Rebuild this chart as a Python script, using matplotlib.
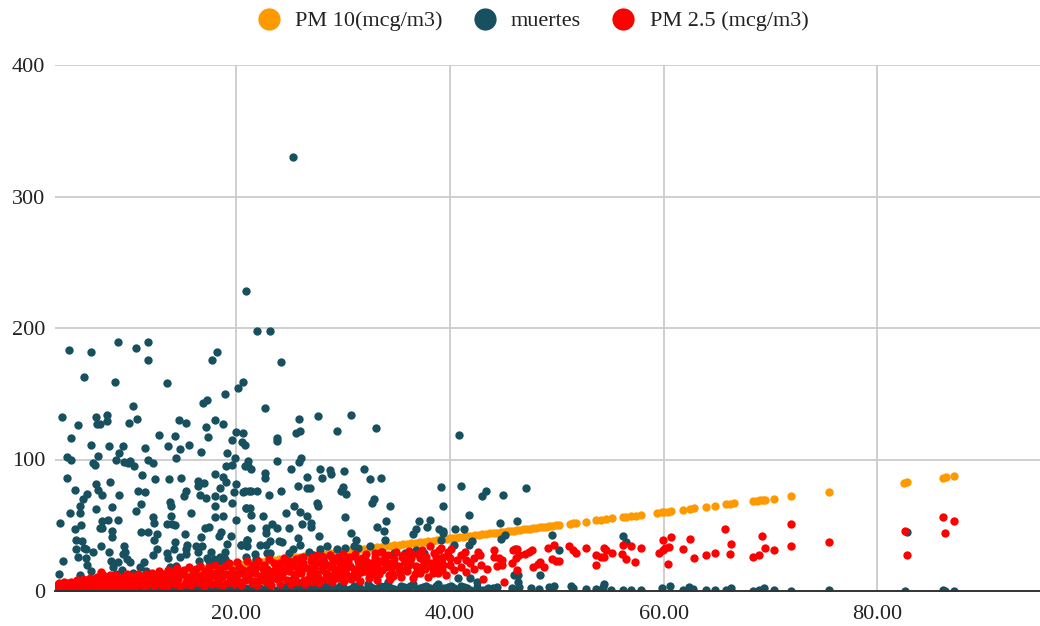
import matplotlib
matplotlib.use("Agg")
import matplotlib.pyplot as plt
from matplotlib.lines import Line2D

plt.rcParams['font.family'] = ['Liberation Serif', 'DejaVu Serif']

series_names = ["PM 10(mcg/m3)", "muertes", "PM 2.5 (mcg/m3)"]
x_ticks = [20, 40, 60, 80]
y_ticks = [0, 100, 200, 300, 400]

pm10_values = [3.2,3.6,4.0,4.4,4.8,5.2,5.6,6.0,6.4,6.8,7.2,7.6,8.0,8.4,8.8,9.2,9.6,10.0,10.4,10.8,
 11.2,11.6,12.0,12.4,12.8,13.2,13.6,14.0,14.4,14.8,15.2,15.6,16.0,16.4,16.8,17.2,17.6,18.0,18.4,18.8,
 19.2,19.6,20.0,20.4,20.8,21.2,21.6,22.0,22.4,22.8,23.2,23.6,24.0,24.4,24.8,25.2,25.6,26.0,26.4,26.8,
 27.2,27.6,28.0,28.4,28.8,29.2,29.6,30.0,30.4,30.8,31.2,31.6,32.0,32.4,32.8,33.2,33.6,34.0,34.4,34.8,
 35.2,35.6,36.0,36.4,36.8,37.2,37.6,38.0,38.4,38.8,39.2,39.6,40.0,40.3,40.6,40.9,41.2,41.5,41.8,42.1,
 42.4,42.7,43.0,43.4,43.8,44.1,44.4,44.8,45.1,45.4,45.7,46.0,46.3,46.6,46.9,47.2,47.5,47.8,48.1,48.4,
 48.7,49.0,49.3,49.6,49.9,50.2,51.2,51.5,51.8,52.7,53.7,54.1,54.6,55.2,56.2,56.5,56.9,57.4,57.9,
 59.4,59.8,60.0,60.4,60.7,61.8,62.5,62.8,64.0,64.8,65.8,66.2,66.6,68.4,68.7,69.0,69.3,69.5,70.3,71.9,
 75.5,82.5,82.8,86.1,86.4,87.2]

muertes_points = [
 (4.4,183),(6.4,182),(9.0,189),(10.6,185),(11.8,189),(11.8,176),(18.2,182),(17.8,176),(5.8,163),(8.7,159),
 (13.5,158),(20.7,159),(20.2,154),(19.0,150),(17.3,145),(16.9,143),(10.4,141),(3.7,132),(6.9,132),(7.9,134),
 (5.2,126),(7.9,129),(7.3,127),(7.0,127),(10.0,128),(10.7,131),(14.7,130),(15.3,128),(18.0,130),(18.8,127),
 (17.2,125),(20.0,121),(20.7,120),(4.6,116),(12.8,119),(14.3,118),(17.4,117),(19.6,115),(6.4,111),(8.1,110),
 (9.4,110),(11.5,109),(13.6,110),(14.8,108),(15.6,111),(16.7,106),(19.2,105),(20.6,113),(20.8,111),(9.1,105),
 (7.1,103),(4.2,102),(4.6,100),(8.8,100),(6.6,97),(6.8,96),(9.5,98),(9.9,97),(10.1,99),(10.5,95),
 (11.8,100),(12.2,97),(14.4,101),(19.9,101),(19.1,95),(19.6,96),(20.8,95),(11.2,88),(4.2,86),(12.4,85),
 (13.7,85),(14.9,86),(8.2,83),(6.9,81),(4.9,77),(7.1,77),(7.5,73),(6.1,74),(5.7,70),(9.1,73),
 (10.8,76),(11.5,75),(16.4,84),(17.0,82),(16.4,80),(18.0,89),(18.8,87),(19.1,83),(20.0,81),(18.5,78),
 (19.8,75),(20.8,76),(15.3,76),(15.1,72),(16.6,73),(17.2,71),(18.0,72),(18.8,71),(19.6,67),(18.0,65),
 (13.8,68),(13.9,65),(11.1,66),(8.4,64),(5.4,65),(6.9,62),(10.6,61),(4.5,59),(5.4,59),(15.8,59),
 (20.9,63),(13.9,57),(12.2,56),(12.3,52),(18.0,56),(18.8,57),(20.0,54),(3.5,52),(8.0,54),(7.5,53),
 (9.0,54),(5.5,50),(4.9,47),(7.3,48),(7.5,48),(13.5,51),(14.0,51),(14.3,50),(17.1,48),(17.5,49),
 (8.4,46),(8.4,41),(11.1,45),(11.8,45),(12.6,43),(12.3,39),(15.2,43),(18.6,45),(18.4,42),(19.5,42),
 (16.7,41),(5.0,39),(5.6,38),(14.3,37),(19.2,36),(21.0,39),(20.5,35),(5.0,32),(5.8,33),(6.0,32),
 (6.6,30),(7.4,34),(8.1,30),(9.5,34),(9.6,30),(9.4,28),(12.6,32),(12.2,27),(13.5,29),(14.2,32),
 (15.4,35),(15.3,32),(15.3,28),(14.8,26),(16.3,34),(16.8,34),(16.4,30),(17.7,30),(19.0,30),(5.2,26),
 (6.0,25),(3.8,23),(13.6,25),(16.5,23),(17.3,25),(17.9,24),(18.5,26),(19.0,24),(18.4,23),(17.5,23),
 (9.8,24),(10.1,22),(11.4,22),(8.3,23),(9.0,22),(6.1,20),(6.4,15),(3.4,13),(5.4,12),(8.5,18),
 (9.3,16),(8.8,13),(10.4,14),(11.6,15),(11.0,18),(14.4,19),(13.8,18),
 (25.3,330),(20.9,228),(22.0,198),(23.2,198),(24.2,174),(22.7,139),(25.9,131),(27.7,133),(30.8,134),(33.1,124),
 (26.0,122),(25.6,120),(29.4,122),(23.8,116),(23.8,114),(21.1,99),(23.8,99),(26.1,101),(25.9,98),(21.4,93),
 (21.1,95),(25.1,93),(27.9,93),(28.8,92),(28.9,89),(30.1,91),(32.0,93),(22.7,90),(22.7,86),(26.6,87),
 (28.0,86),(32.5,85),(33.6,86),(25.8,80),(26.6,78),(26.9,78),(30.0,79),(29.8,76),(30.3,74),(39.2,79),
 (20.7,75),(21.2,76),(21.4,76),(22.0,76),(23.1,73),(24.2,76),(27.6,67),(27.7,65),(32.9,70),(32.7,67),
 (34.4,65),(39.4,65),(25.4,65),(20.9,63),(21.3,63),(21.4,58),(22.5,57),(24.7,59),(26.0,60),(26.6,57),
 (30.2,56),(21.4,48),(22.8,48),(22.8,44),(23.4,51),(23.8,48),(25.0,48),(26.2,51),(27.0,52),(27.0,49),
 (34.0,53),(33.2,49),(33.8,46),(37.1,53),(36.8,47),(36.6,43),(38.1,54),(37.9,49),(39.0,47),(39.4,46),
 (39.2,39),(27.8,42),(30.8,44),(33.9,39),(31.2,39),(31.0,34),(31.4,33),(30.2,33),(32.5,34),(25.8,40),
 (26.0,35),(24.0,38),(24.3,37),(23.2,38),(22.2,35),(22.8,35),(21.0,39),(20.5,35),(21.0,34),(25.3,32),
 (25.0,29),(22.9,29),(23.2,29),(20.9,26),(21.8,28),(21.9,24),(26.8,30),(27.9,32),(28.5,34),(29.4,32),
 (28.8,27),(27.2,27),(33.7,30),(34.8,29),(35.8,29),(36.8,31),(37.6,29),
 (41.0,80),(40.9,119),(43.4,76),(43.0,72),(45.0,73),(47.1,78),(41.8,58),(44.7,52),(46.3,53),(40.5,47),
 (41.3,47),(39.4,44),(49.6,42.5),(56.2,41.5),(44.8,39.5),(45.2,42.5),(42.1,38),(41.8,35),(46.1,32),(50.2,31),
 (40.4,35),(56.5,37),(48.4,12),(46.4,12),(46.0,12),(46.4,7),(41.9,10),(42.5,7),(40.8,10),(82.8,45)]

muertes_floor_points = [
 (3.3,1),(3.8,2),(4.4,1),(5.0,0.5),(5.6,2),(6.2,1),(6.9,0.5),(7.5,2),(8.1,1),(8.8,0.5),
 (9.4,2),(10.0,1),(10.7,0.5),(11.3,2),(12.0,1),(12.6,2.5),(13.3,1),(14.0,2),(14.6,0.5),(15.3,2.5),
 (16.0,1),(16.6,3),(17.3,1),(17.9,2.5),(18.6,0.5),(19.2,3),(19.9,1),(20.5,3),(21.2,1),(21.9,3),
 (22.5,1),(23.2,3.5),(23.8,1),(24.5,3),(25.1,1),(25.8,4),(26.4,1),(27.1,3.5),(27.7,1),(28.4,4),
 (29.0,1.5),(29.7,3.5),(30.3,1),(31.0,4),(31.6,2),(32.3,5),(32.9,1),(33.5,3.5),(34.2,6.5),(34.8,1.5),
 (35.4,4),(36.0,1),(36.6,5),(37.2,2),(37.8,4),(38.4,1),(38.9,5),(39.5,2),(40.1,4),(40.7,1),
 (41.3,3),(41.9,1),(42.5,3),(43.1,1),(43.6,2.5),
 (30.0,3),(30.7,1.5),(31.3,3.5),(32.0,1),(32.6,3),(33.2,2),(33.9,4),(34.5,2.5),(35.1,1),(35.7,3),
 (36.3,3.5),(36.9,1.5),(37.5,3),(38.1,2),(38.7,3.5),(39.2,1),(39.8,3),(40.4,2),(41.0,4),(41.6,2),
 (24.2,1.5),(24.8,2),(25.5,2),(26.1,3),(26.8,2),(27.4,1.5),(28.0,3),(28.7,1.5),(29.3,2.5),(22.2,2),
 (22.9,2),(21.6,2),(20.9,2),(20.2,2),(19.6,2),(18.9,2),(18.3,2),(17.6,2),(17.0,2),(16.3,2),
 (44.0,2),(44.4,3),(45.8,2),(46.5,3.3),(47.6,2),(48.3,1.3),(49.3,3),(49.7,3.8),(51.3,3.8),(51.5,2),
 (52.7,1.5),(53.7,1.5),(54.4,5.3),(54.3,3.3),(55.1,0.8),(56.2,0.8),(56.9,0.8),(57.9,0.8),(59.8,2.3),(60.6,3.8),
 (61.8,0.8),(62.4,3.3),(62.7,1.8),(64.0,0.8),(64.8,0.8),(65.8,0.8),(66.3,2),(68.4,0),(68.9,0.5),(69.4,2),
 (70.3,1),(71.9,0),(75.5,1),(82.6,0),(86.1,1),(86.3,0),(87.2,0)]

pm25_points = [
 (65.7,47),(66.3,36),(66.2,28),(64.8,28.6),(64.0,27.6),(62.8,25),(62.5,39.5),(61.8,32),(60.7,41),(59.9,39),
 (60.5,33.7),(60.1,33),(59.6,29),(59.9,31),(60.4,20.5),(57.9,33),(56.9,34),(56.2,35),(56.1,28),(56.5,24),
 (57.3,22),(55.2,28.6),(54.4,32.4),(54.6,31),(54.4,26),(53.7,27),(54.1,25.6),(53.7,20),(52.7,33),(51.8,29),
 (51.5,31),(51.1,34),(49.7,35),(49.2,33),(49.6,24),(49.9,23),(50.2,23),(48.4,22),(48.2,20.5),(47.8,18.5),
 (48.8,18),(47.7,31),(47.4,30),(47.0,28),(46.3,32),(45.9,31),(46.5,27),(46.2,25),(45.8,21),(46.3,16),
 (45.1,7),(43.1,9),(44.1,31),(44.1,26),(44.6,25),(44.9,23.5),(44.4,19),(44.9,20),(42.8,27),(42.6,30),
 (42.3,25),(41.9,21),(42.3,17),(42.9,20),(43.5,17),(41.4,30),(41.0,27),(41.5,23.5),(40.7,23.5),(41.0,18.5),
 (40.4,16),(41.5,14.7),(40.1,32),(39.8,30),(40.0,25),(39.4,26),(39.3,21),(40.0,20),(39.6,12),(39.3,16),
 (68.4,25.6),(68.9,27),(69.2,42),(69.5,33),(70.3,31.5),(71.9,51),(71.9,34),(75.5,37.5),(82.6,45.5),(82.8,27),
 (86.1,56),(86.3,44),(87.2,53)]

pm25_band_points = [
 (3.2,2.5),(3.3,4.5),(3.5,3.2),(3.7,5.5),(3.8,2.2),(4.0,3.8),(4.2,6.0),(4.3,2.6),(4.5,4.4),(4.7,2.8),
 (4.8,6.2),(5.0,3.5),(5.2,5.0),(5.3,2.4),(5.5,7.5),(5.6,3.8),(5.8,5.8),(6.0,2.7),(6.1,8.6),(6.2,4.6),
 (6.4,3.0),(6.5,6.6),(6.7,9.0),(6.9,4.2),(7.0,2.5),(7.2,7.2),(7.4,14.7),(7.5,5.0),(7.6,3.2),(7.8,8.2),
 (8.0,2.8),(8.1,6.0),(8.3,10.2),(8.4,4.0),(8.6,7.4),(8.8,12.4),(8.9,3.0),(9.0,9.0),(9.2,5.2),(9.4,11.0),
 (9.5,2.8),(9.7,7.0),(9.8,13.0),(10.0,4.2),(10.2,9.6),(10.3,11.4),(10.5,3.0),(10.6,6.2),(10.8,13.0),(11.0,8.0),
 (11.1,4.5),(11.3,10.6),(11.5,3.2),(11.6,12.8),(11.8,6.4),(12.0,9.0),(12.1,14.0),(12.3,3.6),(12.5,11.0),(12.6,7.2),
 (12.8,15.0),(13.0,4.8),(13.1,9.2),(13.3,12.8),(13.5,3.4),(13.6,16.2),(13.8,7.0),(14.0,11.0),(14.1,14.4),(14.3,5.0),
 (14.5,17.4),(14.6,9.0),(14.8,3.8),(15.0,13.0),(15.1,16.0),(15.3,7.0),(15.5,11.0),(15.6,18.0),(15.8,4.4),(16.0,14.0),
 (16.1,9.0),(16.3,17.0),(16.5,6.2),(16.6,19.0),(16.8,12.0),(17.0,4.0),(17.1,15.0),(17.3,8.0),(17.5,18.0),(17.6,11.0),
 (17.8,5.4),(18.0,20.0),(18.1,14.0),(18.3,7.6),(18.5,17.0),(18.7,10.6),(18.8,4.6),(19.0,19.0),(19.1,13.0),(19.3,21.0),
 (19.5,8.0),(19.6,16.0),(19.8,5.6),(20.0,11.0),(20.1,22.0),(20.3,18.0),(20.5,4.5),(20.6,14.0),(20.8,8.0),(21.0,22.5),
 (21.1,11.0),(21.3,17.0),(21.5,6.0),(21.6,20.0),(21.8,13.5),(22.0,4.8),(22.1,23.0),(22.3,9.0),(22.5,16.5),(22.6,19.5),
 (22.8,6.5),(23.0,12.0),(23.1,24.0),(23.3,4.8),(23.5,15.0),(23.6,21.0),(23.8,9.0),(24.0,18.0),(24.1,5.6),(24.3,12.5),
 (24.5,25.0),(24.6,22.0),(24.8,8.0),(25.0,15.5),(25.1,5.5),(25.3,19.0),(25.5,11.5),(25.6,24.5),(25.8,7.0),(26.0,21.0),
 (26.1,14.0),(26.3,26.0),(26.5,5.6),(26.6,17.5),(26.8,10.0),(27.0,23.0),(27.1,7.0),(27.3,20.0),(27.5,13.0),(27.6,27.0),
 (27.8,6.0),(28.0,16.0),(28.1,24.5),(28.3,9.5),(28.5,19.5),(28.6,12.5),(28.8,27.5),(29.0,7.0),(29.1,22.0),(29.3,15.0),
 (29.5,25.5),(29.6,10.0),(29.8,18.0),(30.0,28.0),(30.1,7.5),(30.3,13.0),(30.5,22.5),(30.6,25.5),(30.8,9.0),(31.0,17.0),
 (31.1,28.5),(31.3,12.0),(31.5,20.5),(31.6,7.5),(31.8,25.0),(32.0,15.0),(32.2,28.0),(32.4,10.0),(32.6,21.0),(32.8,17.5),
 (33.0,26.0),(33.2,8.5),(33.4,13.0),(33.6,30.0),(33.8,22.0),(34.0,18.0),(34.2,27.0),(34.4,9.5),(34.6,14.0),(34.8,24.0),
 (35.0,30.0),(35.2,19.0),(35.4,11.0),(35.6,27.0),(35.8,22.0),(36.0,15.0),(36.2,30.5),(36.4,25.0),(36.6,10.0),(36.8,19.0),
 (37.0,28.0),(37.2,14.0),(37.4,31.0),(37.6,22.0),(37.8,25.5),(38.0,11.0),(38.1,34.0),(38.3,18.0),(38.5,29.0),(38.7,23.0),
 (38.9,14.0),(39.0,31.0),(39.2,33.0),(39.4,20.0),
 (3.4,6),(3.9,7),(4.6,7),(5.1,8),(5.7,9),(6.3,10),(7.0,11),(7.6,12),(8.2,12.5),(8.7,5.2),
 (9.1,7.2),(9.6,5.0),(10.1,7.4),(10.7,9.0),(11.2,6.2),(11.7,9.0),(12.2,5.6),(12.7,12.4),(13.2,6.4),(13.7,10.2),
 (14.2,8.0),(14.7,12.2),(15.2,5.2),(15.7,9.2),(16.2,11.8),(16.7,8.4),(17.2,6.0),(17.7,13.6),(18.2,9.6),(18.6,12.4),
 (19.2,6.4),(19.7,10.0),(20.2,13.0),(20.7,16.0),(21.2,9.0),(21.7,7.6),(22.2,11.4),(22.7,14.4),(23.2,8.0),(23.7,18.0),
 (24.2,10.4),(24.7,15.6),(25.2,8.4),(25.7,13.4),(26.2,17.0),(26.7,7.6),(27.2,15.6),(27.7,10.6),(28.2,22.0),(28.7,8.4),
 (29.2,12.0),(29.7,21.0),(30.2,16.0),(30.7,19.0),(31.2,10.6),(31.7,14.4),(32.2,23.0),(32.7,12.6),(33.2,19.6),(33.7,16.2),
 (34.2,21.4),(34.7,11.6),(35.2,16.4),(35.7,24.4),(36.2,20.0),(36.7,12.6),(37.2,25.2),(37.7,17.0),(38.2,21.0),(38.7,26.0),
 (24.1,21.4),(25.0,23.0),(26.0,24.8),(27.1,26.0),(28.0,26.4),(29.0,25.0),(30.0,24.6),(31.0,26.4),(32.0,25.2),(33.0,29.0),
 (20.4,7),(20.9,11.5),(21.4,14.5),(21.9,18),(22.4,8),(22.9,17),(23.4,11),(23.9,14),(24.4,16),(24.9,19),
 (25.4,12),(25.9,17),(26.4,8.5),(26.9,13),(27.4,18),(27.9,21),(28.4,14),(28.9,18),(29.4,10),(29.9,13),
 (30.4,18),(30.9,12),(31.4,15),(31.9,19),(32.4,13),(32.9,22),(33.3,16),(33.9,26),(34.3,12),(34.9,20),
 (35.3,14),(35.9,17),(36.3,22),(36.9,15),(37.3,18),(37.9,22),(38.4,14),(38.9,18),(27.3,10),(28.9,11),
 (26.3,21),(27.4,23),(29.4,17),(30.4,21),(31.4,23),(32.4,18),(33.5,23),(34.5,18),(35.5,26),(36.5,28),
 (13.4,10),(14.4,6),(15.4,9),(16.4,7),(17.4,13),(18.4,5.4),(19.4,11),(10.4,8),(11.4,8),(12.4,9)]

dark = "#17505e"
orange = "#ff9900"
red = "#ff0000"
text_c = "#222222"
font_size = 16

fig = plt.figure(figsize=(10.4, 6.26), dpi=100)
ax = fig.add_axes([55/1040, 1-591/626, 985/1040, 526/626])

marker_area = 36
all_dark = muertes_points + muertes_floor_points
all_red = pm25_points + pm25_band_points
ax.scatter(pm10_values, pm10_values, s=marker_area, color=orange, linewidths=0, zorder=3)
ax.scatter([p[0] for p in all_dark], [p[1] for p in all_dark], s=marker_area, color=dark, linewidths=0, zorder=4)
ax.scatter([p[0] for p in all_red], [p[1] for p in all_red], s=marker_area, color=red, linewidths=0, zorder=5)

ax.set_xlim(3.07, 95.2)
ax.set_ylim(0, 400)
ax.set_xticks(x_ticks)
ax.set_xticklabels([f"{v:.2f}" for v in x_ticks])
ax.set_yticks(y_ticks)
ax.grid(True, color="#cccccc", linewidth=1.3, zorder=0)
ax.set_axisbelow(True)
for s in ("top", "right", "left"):
    ax.spines[s].set_visible(False)
ax.spines["bottom"].set_color("#333333")
ax.spines["bottom"].set_linewidth(1.4)
ax.spines["bottom"].set_zorder(6)
ax.tick_params(length=0, labelsize=font_size, labelcolor=text_c, pad=10)
ax.tick_params(axis="y", pad=7)

handles = [Line2D([], [], linestyle="none", marker="o", markersize=16, color=c, markeredgewidth=0)
           for c in (orange, dark, red)]
fig.legend(handles, series_names, loc="center", bbox_to_anchor=(533/1040, 1-21/626), ncol=3,
           frameon=False, fontsize=font_size, labelcolor=text_c, handletextpad=0.68,
           columnspacing=1.4, borderpad=0, borderaxespad=0, handlelength=1.0)

fig.savefig("out.png", dpi=100)
